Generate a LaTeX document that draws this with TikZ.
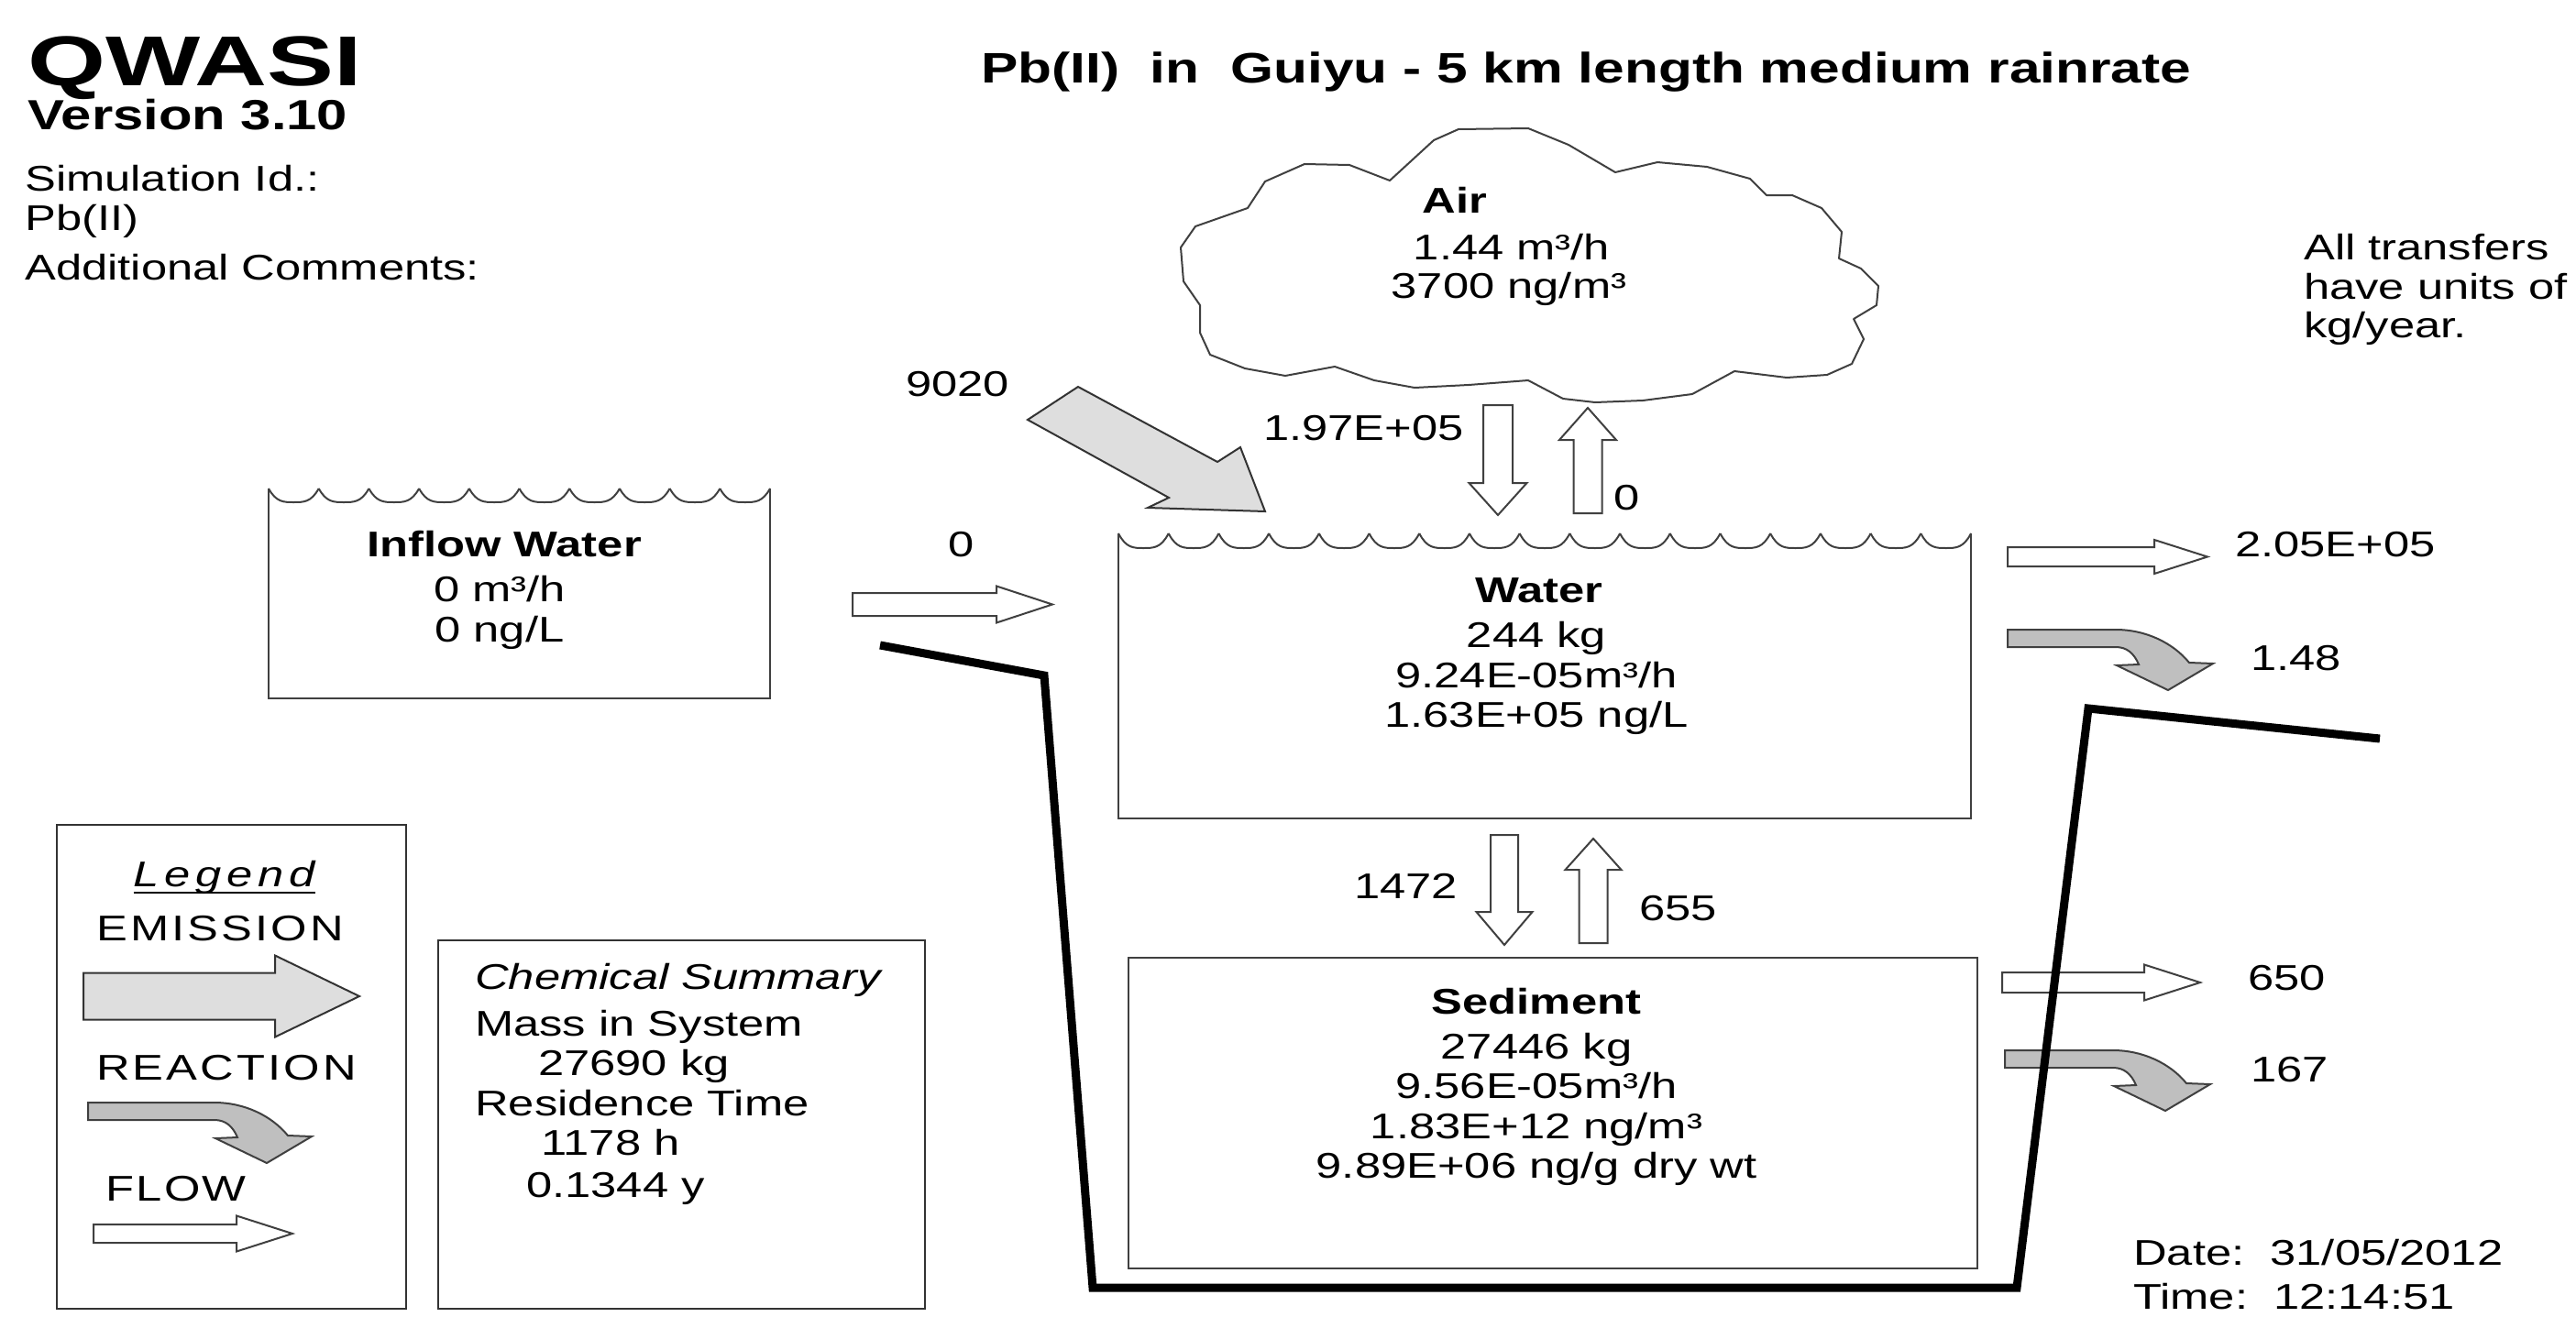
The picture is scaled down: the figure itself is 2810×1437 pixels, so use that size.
\documentclass[tikz,border=0pt]{standalone}
\usepackage{fontspec}
\setmainfont{Liberation Sans}[FakeStretch=1.3]
\newfontfamily\qwwide{Liberation Sans}[FakeStretch=1.42]
\newcommand{\qwbody}{\fontsize{39}{43}\selectfont}
\newcommand{\qwHArrow}[7]{\draw[#1] (#2,#5-#6) -- (#3,#5-#6) -- (#3,#5-#7) -- (#4,#5) -- (#3,#5+#7) -- (#3,#5+#6) -- (#2,#5+#6) -- cycle;}
\newcommand{\qwVArrow}[7]{\draw[#1] (#2-#6,#3) -- (#2+#6,#3) -- (#2+#6,#4) -- (#2+#7,#4) -- (#2,#5) -- (#2-#7,#4) -- (#2-#6,#4) -- cycle;}
\newcommand{\qwReact}[3]{\draw[reactarrow, shift={(#1,#2)}] (0,0) -- (118+#3,0) .. controls (150+#3,0) and (180+#3,14) .. (198+#3,36) -- (224+#3,37) -- (175+#3,66) -- (119+#3,39) -- (143+#3,38) .. controls (138+#3,26) and (130+#3,19) .. (118+#3,19) -- (0,19) -- cycle;}
\newcommand{\qwWaves}[5]{% x0, y top, y trough, n, width
  \foreach \i in {1,...,#4}{
    \draw[boxline] (#1+\i*#5-#5,#2) .. controls (#1+\i*#5-0.85*#5,#3) and (#1+\i*#5-0.7*#5,#3) .. (#1+\i*#5-0.5*#5,#3) .. controls (#1+\i*#5-0.3*#5,#3) and (#1+\i*#5-0.15*#5,#3) .. (#1+\i*#5,#2);
  }}
\tikzset{
  boxline/.style={draw=black!75, line width=2pt},
  flowarrow/.style={draw=black!75, line width=2pt, fill=white, line join=miter},
  reactarrow/.style={draw=black!75, line width=2pt, fill=black!25, line join=miter},
  emitarrow/.style={draw=black!80, line width=2pt, fill=black!13, line join=miter},
  bank/.style={draw=black, line width=9pt, line join=miter},
  txt/.style={inner sep=0pt, font=\qwbody},
  btxt/.style={inner sep=0pt, font=\qwbody\bfseries},
}
\begin{document}
\begin{tikzpicture}[x=1pt, y=-1pt]
\useasboundingbox (0,0) rectangle (2810,1437);
\fill[white] (0,0) rectangle (2810,1437);

% header
\node[inner sep=0pt, anchor=base west, font=\qwwide\fontsize{77}{80}\selectfont\bfseries] (qwasi) at (30,93) {QWASI};
\node[inner sep=0pt, anchor=base west, font=\fontsize{46}{50}\selectfont\bfseries] (version) at (30,141) {Version 3.10};
\node[txt, anchor=base west] (simid) at (27,208) {Simulation Id.:};
\node[txt, anchor=base west] (simname) at (27,251) {Pb(II)};
\node[txt, anchor=base west] (comments) at (27,305) {Additional Comments:};
\node[inner sep=0pt, anchor=base west, font=\fontsize{46.5}{50}\selectfont\bfseries] (title) at (1070,90) {Pb(II)\ \ in\ \ Guiyu - 5 km length medium rainrate};

% note
\node[txt, anchor=base west] (note1) at (2513,283) {All transfers};
\node[txt, anchor=base west] (note2) at (2513,326) {have units of};
\node[txt, anchor=base west] (note3) at (2513,368) {kg/year.};

% cloud (air)
\draw[boxline, line join=round] (1591,141) -- (1667,140) -- (1711,158) -- (1762,188) -- (1808,177) -- (1862,182) -- (1909,195) -- (1927,213) -- (1955,213) -- (1987,227) -- (2009,253) -- (2006,282) -- (2030,293) -- (2049,312) -- (2047,333) -- (2022,348) -- (2033,370) -- (2020,397) -- (1993,409) -- (1949,412) -- (1892,405) -- (1846,430) -- (1792,437) -- (1740,439) -- (1705,435) -- (1667,415) -- (1602,420) -- (1543,423) -- (1499,415) -- (1456,400) -- (1402,410) -- (1358,402) -- (1320,387) -- (1309,363) -- (1309,333) -- (1291,307) -- (1288,270) -- (1304,247) -- (1361,227) -- (1380,198) -- (1423,179) -- (1472,180) -- (1516,197) -- (1564,153) -- cycle;
\node[btxt, anchor=base] (air) at (1587,232) {Air};
\node[txt, anchor=base] (air1) at (1649,283) {1.44 m³/h};
\node[txt, anchor=base] (air2) at (1646,325) {3700 ng/m³};

% inflow water box
\draw[boxline] (293,533) -- (293,762) -- (840,762) -- (840,533);
\qwWaves{293}{533}{548}{10}{54.7}
\node[btxt, anchor=base] (inflow) at (550,607) {Inflow Water};
\node[txt, anchor=base] (inflow1) at (545,656) {0 m³/h};
\node[txt, anchor=base] (inflow2) at (545,700) {0 ng/L};

% water box
\draw[boxline] (1220,582) -- (1220,893) -- (2150,893) -- (2150,582);
\qwWaves{1220}{582}{598}{17}{54.706}
\node[btxt, anchor=base] (water) at (1679,657) {Water};
\node[txt, anchor=base] (water1) at (1676,706) {244 kg};
\node[txt, anchor=base] (water2) at (1676,750) {9.24E-05m³/h};
\node[txt, anchor=base] (water3) at (1676,793) {1.63E+05 ng/L};

% sediment box
\draw[boxline] (1231,1045) rectangle (2157,1384);
\node[btxt, anchor=base] (sed) at (1676,1106) {Sediment};
\node[txt, anchor=base] (sed1) at (1676,1155) {27446 kg};
\node[txt, anchor=base] (sed2) at (1676,1198) {9.56E-05m³/h};
\node[txt, anchor=base] (sed3) at (1676,1242) {1.83E+12 ng/m³};
\node[txt, anchor=base] (sed4) at (1676,1285) {9.89E+06 ng/g dry wt};

% emission arrow
\draw[emitarrow] (1176,422) -- (1121,458) -- (1275,543) -- (1252,554) -- (1380,558) -- (1353,488) -- (1328,504) -- cycle;
\node[txt, anchor=base west] (emitlbl) at (988,432) {9020};

% air-water exchange
\qwVArrow{flowarrow}{1634}{442}{527}{562}{16}{31.5}
\qwVArrow{flowarrow}{1732}{560}{480}{445}{15.5}{31}
\node[txt, anchor=base east] (dep) at (1597,480) {1.97E+05};
\node[txt, anchor=base west] (vol) at (1760,556) {0};

% inflow arrow
\qwHArrow{flowarrow}{930}{1087}{1148}{659.5}{12.5}{20}
\node[txt, anchor=base west] (inlbl) at (1034,607) {0};

% water outflows
\qwHArrow{flowarrow}{2190}{2350}{2408}{607.5}{10.5}{18.5}
\node[txt, anchor=base west] (wout) at (2438,607) {2.05E+05};
\qwReact{2190}{687}{0}
\node[txt, anchor=base west] (wreact) at (2455,731) {1.48};

% water-sediment exchange
\qwVArrow{flowarrow}{1641}{911}{995}{1031}{15}{30.5}
\qwVArrow{flowarrow}{1738}{1029}{949}{915}{15.5}{30.5}
\node[txt, anchor=base east] (settle) at (1590,980) {1472};
\node[txt, anchor=base west] (resus) at (1788,1004) {655};

% sediment outflows
\qwHArrow{flowarrow}{2184}{2339}{2400}{1072}{11}{19.5}
\node[txt, anchor=base west] (sout) at (2452,1080) {650};
\qwReact{2187}{1146}{0}
\node[txt, anchor=base west] (sreact) at (2455,1180) {167};

% river bank
\draw[bank] (960,704) -- (1139,737) -- (1192,1405) -- (2200,1405) -- (2278,773) -- (2596,806);

% legend
\draw[draw=black!80, line width=2pt] (62,900) rectangle (443,1428);
\node[txt, anchor=base, font=\qwbody\itshape\addfontfeature{LetterSpace=15}] (legend) at (245,967) {Legend};
\draw[line width=2pt] ([yshift=-7pt]legend.base west) -- ([yshift=-7pt]legend.base east);
\node[txt, anchor=base west, font=\qwbody\addfontfeature{LetterSpace=8}] (lemis) at (105,1026) {EMISSION};
\qwHArrow{emitarrow}{91}{300}{392}{1087}{25.5}{44.5}
\node[txt, anchor=base west, font=\qwbody\addfontfeature{LetterSpace=8}] (lreact) at (105,1178) {REACTION};
\qwReact{96}{1203}{20}
\node[txt, anchor=base west, font=\qwbody\addfontfeature{LetterSpace=6}] (lflow) at (115,1310) {FLOW};
\qwHArrow{flowarrow}{102}{258}{319}{1346}{10}{19.5}

% chemical summary
\draw[draw=black!80, line width=2pt] (478,1026) rectangle (1009,1428);
\node[txt, anchor=base west, font=\qwbody\itshape] (chem) at (518,1079) {Chemical Summary};
\node[txt, anchor=base west] (mass) at (518,1130) {Mass in System};
\node[txt, anchor=base west] (massv) at (587,1173) {27690 kg};
\node[txt, anchor=base west] (rest) at (518,1217) {Residence Time};
\node[txt, anchor=base west] (resth) at (590,1260) {1178 h};
\node[txt, anchor=base west] (resty) at (574,1306) {0.1344 y};

% date/time
\node[txt, anchor=base west] (date) at (2327,1380) {Date:\ \ 31/05/2012};
\node[txt, anchor=base west] (time) at (2327,1428) {Time:\ \ 12:14:51};
\end{tikzpicture}
\end{document}
